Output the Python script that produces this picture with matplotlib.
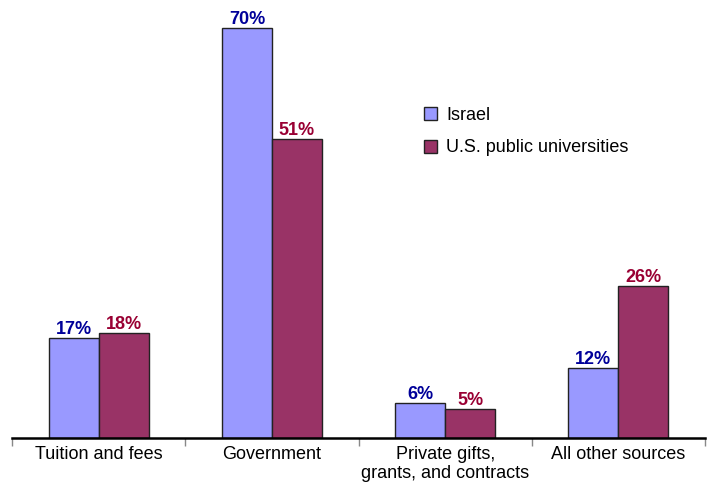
import numpy as np
import matplotlib.pyplot as plt
import matplotlib.ticker as ticker

categories = ['Tuition and fees', 'Government', 'Private gifts,\ngrants, and contracts', 'All other sources']
israel = [17, 70, 6, 12]
us_public = [18, 51, 5, 26]
series_names = ['Israel', 'U.S. public universities']

plt.rcParams['font.family'] = ['Liberation Sans', 'DejaVu Sans']

fig = plt.figure(figsize=(7.07, 4.83), dpi=100)
ax = fig.add_axes([12/707, 45/483, 693/707, 428/483])

x = np.arange(len(categories))
w = 0.288
b1 = ax.bar(x - w/2, israel, w, color='#9999FF', edgecolor='#222222', linewidth=1, label=series_names[0])
b2 = ax.bar(x + w/2, us_public, w, color='#993366', edgecolor='#222222', linewidth=1, label=series_names[1])

for bars, vals, col in [(b1, israel, '#000099'), (b2, us_public, '#990033')]:
    for r, v in zip(bars, vals):
        ax.annotate(f'{v}%', (r.get_x() + r.get_width()/2, v), xytext=(0, 0),
                    textcoords='offset points', ha='center', va='bottom',
                    fontsize=13, fontweight='bold', color=col)

ax.set_xlim(-0.5, len(categories) - 0.5)
ax.set_ylim(0, 73.07)
ax.set_yticks([])
for s in ['left', 'right', 'top']:
    ax.spines[s].set_visible(False)
ax.spines['bottom'].set_linewidth(1.8)

ax.set_xticks(x)
ax.set_xticklabels(categories, fontsize=13, linespacing=1.1)
ax.xaxis.set_minor_locator(ticker.FixedLocator(np.arange(-0.5, len(categories), 1)))
ax.tick_params(axis='x', which='major', length=0, pad=6)
ax.tick_params(axis='x', which='minor', length=6, width=1, color='#888888')

ax.legend(loc='upper left', bbox_to_anchor=(0.584, 0.79), frameon=False, fontsize=13,
          handlelength=0.72, handleheight=0.72, handletextpad=0.5, labelspacing=0.85,
          borderaxespad=0)

fig.savefig('out.png', dpi=100)
